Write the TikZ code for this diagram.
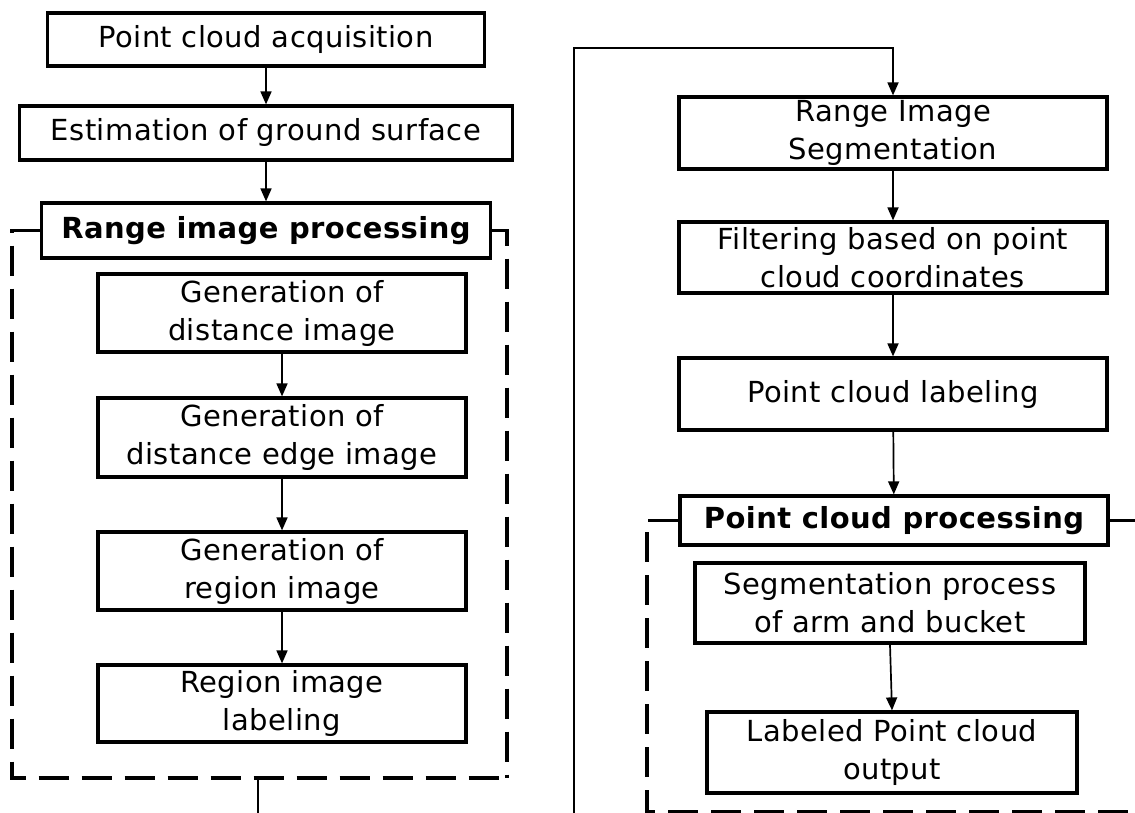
\documentclass[tikz,border=0pt]{standalone}
\usepackage{fontspec}
\setmainfont{DejaVu Sans}[LetterSpace=1.5]
\usetikzlibrary{arrows.meta}
\tikzstyle{stepbox} = [draw=black, line width=3.2pt, rectangle, inner sep=0pt,
    align=center, font=\fontsize{29}{38}\selectfont]
\tikzstyle{grouptitle} = [stepbox, font=\fontsize{29}{38}\selectfont\bfseries]
\tikzstyle{flow} = [line width=1.7pt, -{Triangle[length=13pt,width=11pt]}]
\tikzstyle{groupline} = [line width=3.6pt, dash pattern=on 30pt off 13pt]

\begin{document}
\begin{tikzpicture}[x=1pt,y=-1pt]
    \useasboundingbox (0,0) rectangle (1135,813);
    % left column
    \node [stepbox, minimum width=437pt, minimum height=53pt] (acq) at (266,39.5) {Point cloud acquisition};
    \node [stepbox, minimum width=493pt, minimum height=54pt] (ground) at (266,133) {Estimation of ground surface};
    \node [grouptitle, minimum width=449pt, minimum height=55pt] (rangettl) at (266,230.5) {Range image processing};
    \node [stepbox, minimum width=368pt, minimum height=78pt] (dist) at (282,313) {Generation of\\distance image};
    \node [stepbox, minimum width=368pt, minimum height=79pt] (edge) at (282,437.5) {Generation of\\distance edge image};
    \node [stepbox, minimum width=368pt, minimum height=78pt] (region) at (282,571) {Generation of\\region image};
    \node [stepbox, minimum width=368pt, minimum height=77pt] (reglabel) at (282,703.5) {Region image\\labeling};
    \draw [flow] (acq) -- (ground);
    \draw [flow] (ground) -- (rangettl);
    \draw [flow] (dist) -- (edge);
    \draw [flow] (edge) -- (region);
    \draw [flow] (region) -- (reglabel);
    \draw [groupline] (rangettl.west) -- (12,230.5) -- (12,778) -- (507,778);
    \draw [groupline] (rangettl.east) -- (507,230.5) -- (507,778);
    \coordinate (rangeout) at (258,778);
    \coordinate (leftcut) at (258,825);
    \draw [line width=1.7pt] (rangeout) -- (leftcut);

    % right column
    \node [stepbox, minimum width=428pt, minimum height=72pt] (rangeseg) at (893,133) {Range Image\\Segmentation};
    \node [stepbox, minimum width=428pt, minimum height=71pt] (filter) at (893,257.5) {Filtering based on point\\cloud coordinates};
    \node [stepbox, minimum width=428pt, minimum height=72pt] (cloudlabel) at (893,394) {Point cloud labeling};
    \node [grouptitle, minimum width=428pt, minimum height=49pt] (cloudttl) at (894,520.5) {Point cloud processing};
    \node [stepbox, minimum width=390pt, minimum height=80pt] (armseg) at (890,603) {Segmentation process\\of arm and bucket};
    \node [stepbox, minimum width=370pt, minimum height=81pt] (output) at (892,752.5) {Labeled Point cloud\\output};
    \coordinate (rightcut) at (574,825);
    \coordinate (bend) at (574,48);
    \draw [flow] (rightcut) -- (bend) -| (rangeseg.north);
    \draw [flow] (rangeseg) -- (filter);
    \draw [flow] (filter) -- (cloudlabel);
    \draw [flow] (cloudlabel) -- (cloudttl);
    \draw [flow] (armseg.south) -- (output.north);
    \draw [groupline] (cloudttl.west) -- (647,520.5) -- (647,812) -- (1145,812);
    \draw [groupline] (cloudttl.east) -- (1145,520.5);
\end{tikzpicture}
\end{document}
